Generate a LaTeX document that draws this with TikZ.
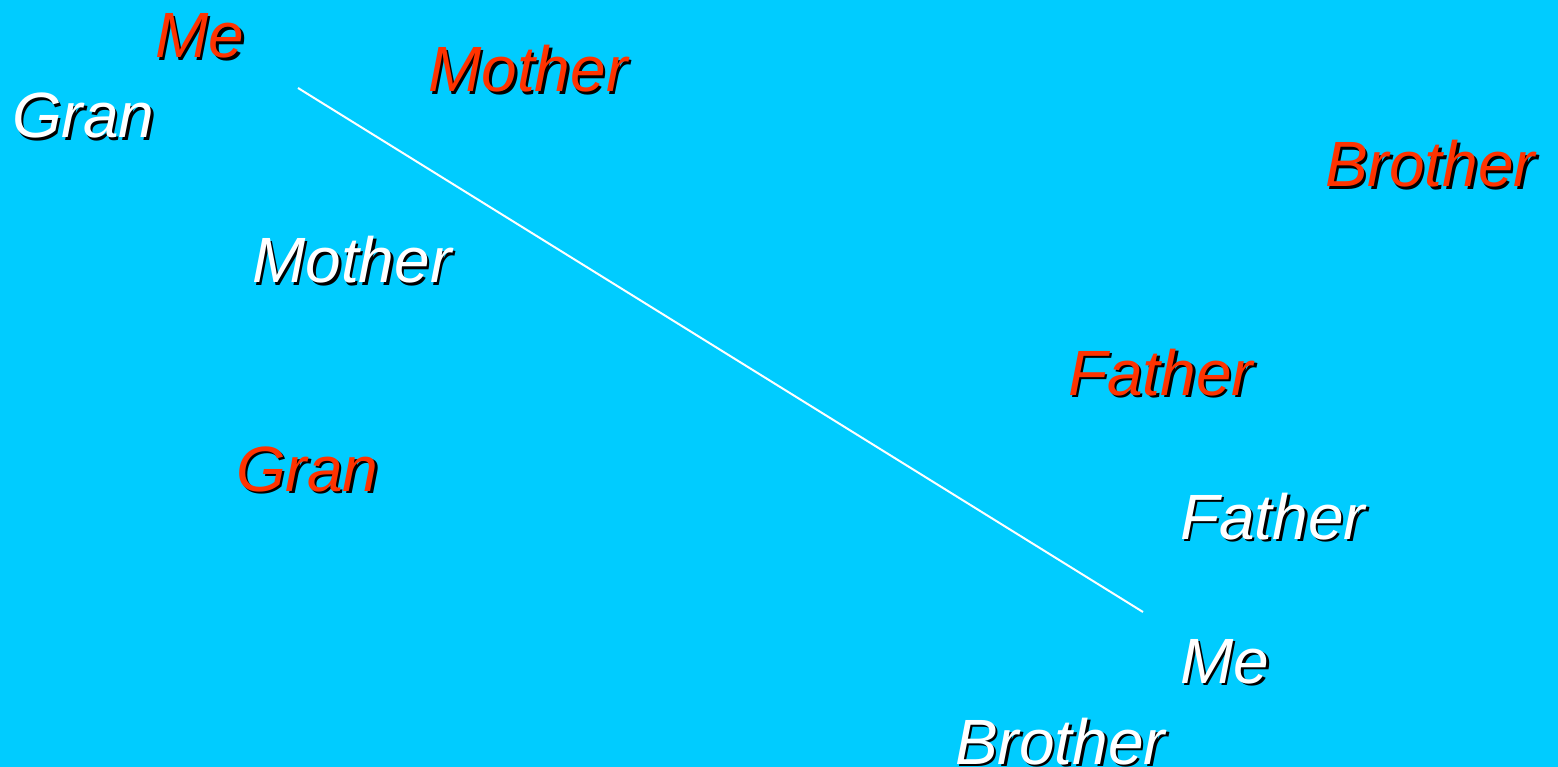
\documentclass[tikz,border=0pt]{standalone}
\usepackage{fontspec}
\setmainfont{Liberation Sans}
\definecolor{bgblue}{HTML}{00CCFF}
\definecolor{wred}{HTML}{FF3300}
\tikzset{
  word/.style={inner sep=0pt, anchor=base west, font=\fontsize{64}{64}\selectfont\itshape},
  shadow/.style={word, text=black},
  redword/.style={word, text=wred},
  whiteword/.style={word, text=white},
  link/.style={draw=white, line width=2pt}
}
\newcommand{\shword}[4]{%
  \node[shadow] at ([shift={(2.5,2.5)}]#2) {#4};
  \node[#3] (#1) at (#2) {#4};
}
\begin{document}
\begin{tikzpicture}[x=1pt,y=-1pt]
\fill[bgblue] (0,0) rectangle (1558,767);
\useasboundingbox (0,0) rectangle (1558,767);
\shword{meR}{155,58}{redword}{Me}
\shword{granW}{12,138}{whiteword}{Gran}
\shword{motherR}{428,92}{redword}{Mother}
\shword{brotherR}{1325,187}{redword}{Brother}
\shword{motherW}{252,283}{whiteword}{Mother}
\shword{fatherR}{1068,395}{redword}{Father}
\shword{granR}{236,491}{redword}{Gran}
\shword{fatherW}{1180,539}{whiteword}{Father}
\shword{meW}{1180,683}{whiteword}{Me}
\shword{brotherW}{955,764}{whiteword}{Brother}
\coordinate (la) at (298,88);
\coordinate (lb) at (1143,612);
\draw[link] (la) -- (lb);
\end{tikzpicture}
\end{document}
